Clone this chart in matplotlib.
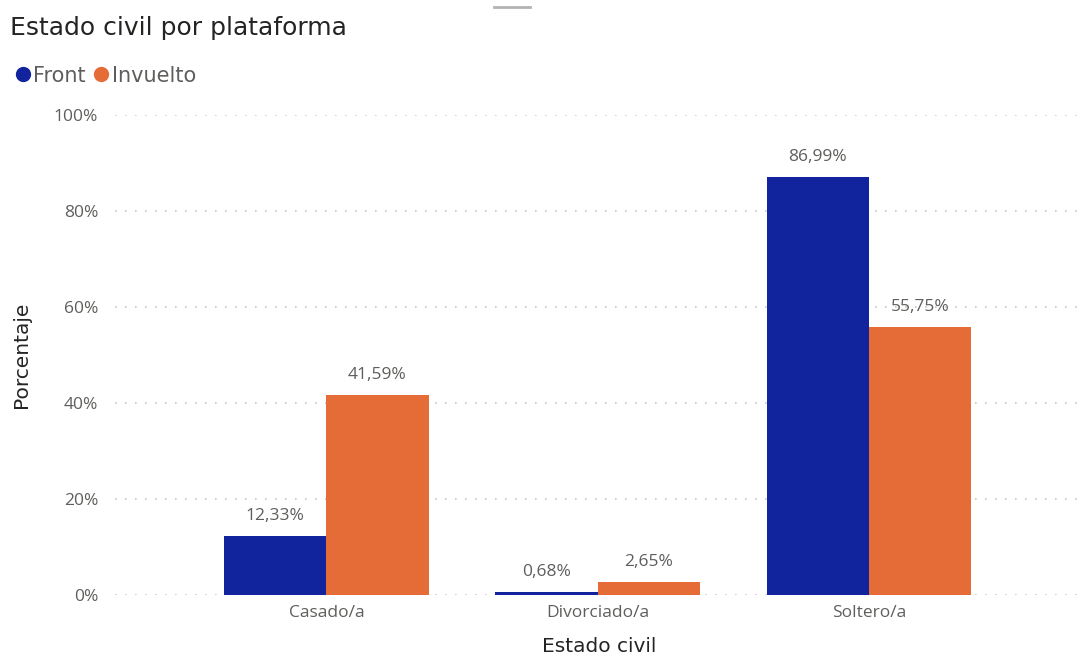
import numpy as np
import matplotlib.pyplot as plt
from matplotlib.lines import Line2D

plt.rcParams['font.family'] = ['Open Sans', 'DejaVu Sans']

categorias = ['Casado/a', 'Divorciado/a', 'Soltero/a']
front = [12.33, 0.68, 86.99]
invuelto = [41.59, 2.65, 55.75]
yticks = [0, 20, 40, 60, 80, 100]

c_front = '#12239E'
c_inv = '#E66C37'
titulo_font = ['DejaVu Sans']

fig = plt.figure(figsize=(10.83, 6.57), dpi=100, facecolor='white')
ax = fig.add_axes([0.106, 0.0944, 0.894, 0.7306])

x = np.arange(len(categorias))
w = 0.377
b1 = ax.bar(x - w / 2, front, w, color=c_front, zorder=3)
b2 = ax.bar(x + w / 2, invuelto, w, color=c_inv, zorder=3)

def etiqueta(v):
    return f'{v:.2f}%'.replace('.', ',')

for barras, vals in [(b1, front), (b2, invuelto)]:
    for rect, v in zip(barras, vals):
        ax.annotate(etiqueta(v), (rect.get_x() + rect.get_width() / 2, v),
                    xytext=(0, 14.5), textcoords='offset points',
                    ha='center', va='center', fontsize=12.5, color='#605E5C')

ax.set_xlim(-0.78, 2.79)
ax.set_ylim(0, 100)
ax.set_yticks(yticks)
ax.set_yticklabels([f'{t}%' for t in yticks])
ax.set_xticks(x)
ax.set_xticklabels(categorias)
ax.tick_params(length=0, labelsize=12.5, labelcolor='#605E5C')
ax.tick_params(axis='y', pad=12)
ax.tick_params(axis='x', pad=7)
ax.grid(axis='y', color='#C8C6C4', linestyle=(0, (1, 5)), linewidth=1.2, zorder=0)
for s in ax.spines.values():
    s.set_visible(False)

ax.set_xlabel('Estado civil', fontsize=14.5, color='#252423', family=titulo_font)
ax.set_ylabel('Porcentaje', fontsize=14.5, color='#252423', family=titulo_font)
ax.xaxis.set_label_coords(0.5, -0.087)
ax.yaxis.set_label_coords(-0.087, 0.5)

fig.text(0.009, 0.957, 'Estado civil por plataforma', fontsize=18,
         color='#252423', va='center', ha='left', family=titulo_font)

handles = [Line2D([], [], marker='o', linestyle='', markersize=10, color=c_front),
           Line2D([], [], marker='o', linestyle='', markersize=10, color=c_inv)]
fig.legend(handles, ['Front', 'Invuelto'], loc='center left',
           bbox_to_anchor=(-0.006, 0.885), ncol=2, frameon=False,
           handletextpad=0.0, columnspacing=0.25, handlelength=1.0,
           labelcolor='#605E5C', prop={'family': titulo_font, 'size': 15})

# asa superior del visual
fig.add_artist(Line2D([0.456, 0.489], [0.989, 0.989], color='#B3B3B3',
                      linewidth=2, transform=fig.transFigure))

fig.savefig('out.png', dpi=100, facecolor='white')
